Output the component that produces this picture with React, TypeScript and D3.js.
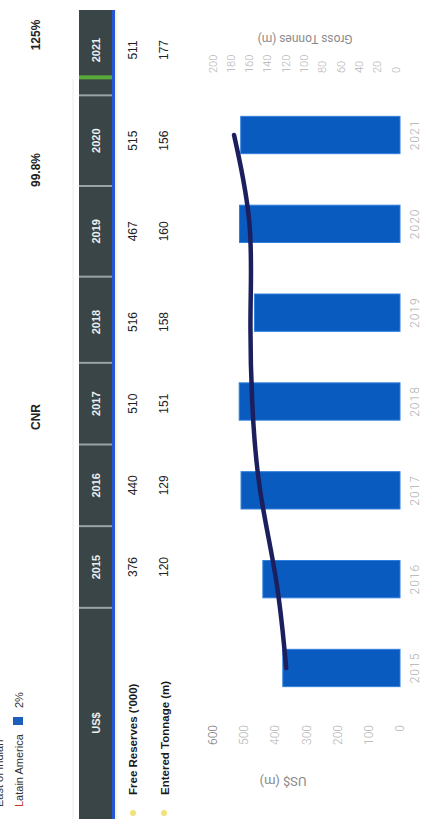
import React from 'react';
import * as d3 from 'd3';

// ---------- data ----------
const years = [2015, 2016, 2017, 2018, 2019, 2020, 2021];
const freeReserves = [376, 440, 510, 516, 467, 515, 511]; // US$ m (bars + table row 1)
const enteredTonnage = [120, 129, 151, 158, 160, 156, 177]; // gross tonnes m (line + table row 2)
const leftTicks = [0, 100, 200, 300, 400, 500, 600];
const rightTicks = [0, 20, 40, 60, 80, 100, 120, 140, 160, 180, 200];
const rowLabels = ["Free Reserves ('000)", 'Entered Tonnage (m)'];
const headerLabel = 'US$';
const titleTexts = ['CNR', '99.8%', '125%'];
const legendLabel = 'Latain America';
const legendValue = '2%';
const cutLabel = 'East of Indian';
const leftTitle = 'US$ (m)';
const rightTitle = 'Gross Tonnes (m)';

// ---------- layout (landscape page, then rotated onto the portrait photo) ----------
const PW = 819; // landscape width
const titlePos = [402, 649, 784];

const FONT = '"Liberation Sans", Arial, sans-serif';
const LIGHT = 'Roboto, "Liberation Sans", sans-serif';

export default function App() {
  const xBar = d3
    .scaleBand<string>()
    .domain(years.map(String))
    .range([106.6, 728.4])
    .paddingInner(0.58)
    .paddingOuter(0.29);
  const bw = xBar.bandwidth();
  const cx = (y: number) => (xBar(String(y)) as number) + bw / 2;
  const yL = d3.scaleLinear().domain([0, 600]).range([400, 213]);
  const yR = d3.scaleLinear().domain([0, 200]).range([396, 213]);

  const tableX = d3.scaleLinear().domain([2015, 2018, 2021]).range([252, 497, 769]);

  const line = d3
    .line<number>()
    .x((_, i) => cx(years[i]))
    .y((d) => yR(d))
    .curve(d3.curveBasis);

  const sepYears = [2014.5, ...years.slice(0, -1).map((y) => y + 0.5)];

  return (
    <svg
      width={424}
      height={819}
      style={{ position: 'absolute', left: 0, top: 0, background: '#fff' }}
    >
      <rect x={0} y={0} width={424} height={819} fill="#ffffff" />
      <g transform={`translate(0,${PW}) rotate(-90)`}>
        {/* cut-off legend line + legend */}
        <text x={12} y={3} fontFamily={FONT} fontSize={11} fill="#333">
          {cutLabel}
        </text>
        <text x={12} y={23} fontFamily={FONT} fontSize={11} fill="#333">
          <tspan fill="#c0392b">{legendLabel.slice(0, 1)}</tspan>
          {legendLabel.slice(1)}
        </text>
        <rect x={94} y={13} width={8} height={10} fill="#1c5fb8" />
        <text x={111} y={23} fontFamily={FONT} fontSize={11} fill="#333">
          {legendValue}
        </text>

        {/* titles */}
        {titleTexts.map((t, i) => (
          <text
            key={t}
            x={titlePos[i]}
            y={40}
            textAnchor="middle"
            fontFamily={FONT}
            fontWeight="bold"
            fontSize={12}
            fill="#222"
          >
            {t}
          </text>
        ))}

        {/* faint border */}
        <line x1={0} x2={740} y1={73} y2={73} stroke="#ececec" strokeWidth={1} />

        {/* table header */}
        <rect x={0} y={79} width={809} height={34} fill="#3a4547" />
        <rect x={0} y={112} width={809} height={3} fill="#2456d6" />
        <rect x={0} y={115} width={809} height={2} fill="#eef3b8" opacity={0.7} />
        {sepYears.map((s) => (
          <rect
            key={s}
            x={tableX(s) - 1}
            y={79}
            width={2}
            height={33}
            fill="#9aa4a6"
          />
        ))}
        <rect x={tableX(2020.5) + 16} y={79} width={4} height={33} fill="#5aa83a" />
        {years.map((y) => (
          <text
            key={y}
            x={tableX(y)}
            y={100}
            textAnchor="middle"
            fontFamily={FONT}
            fontWeight="bold"
            fontSize={11}
            fill="#eef0ee"
          >
            {y}
          </text>
        ))}
        <text
          x={96}
          y={100}
          textAnchor="middle"
          fontFamily={FONT}
          fontWeight="bold"
          fontSize={11}
          fill="#eef0ee"
        >
          {headerLabel}
        </text>

        {/* table rows */}
        {[freeReserves, enteredTonnage].map((row, r) => (
          <g key={r}>
            <circle cx={6} cy={r === 0 ? 133 : 164} r={3} fill="#f1e37a" />
            <text
              x={24}
              y={r === 0 ? 137 : 169}
              fontFamily={FONT}
              fontWeight="bold"
              fontSize={11.5}
              fill="#1a1a1a"
            >
              {rowLabels[r]}
            </text>
            {row.map((v, i) => (
              <text
                key={i}
                x={tableX(years[i])}
                y={r === 0 ? 137 : 168}
                textAnchor="middle"
                fontFamily={FONT}
                fontSize={12}
                fill="#222"
              >
                {v}
              </text>
            ))}
          </g>
        ))}

        {/* bars */}
        {freeReserves.map((v, i) => (
          <rect
            key={i}
            x={xBar(String(years[i])) as number}
            y={yL(v)}
            width={bw}
            height={yL(0) - yL(v)}
            fill="#0a5bbf"
            stroke="#2f7fdc"
            strokeWidth={1}
          />
        ))}

        {/* line */}
        <path
          d={line(enteredTonnage) || ''}
          fill="none"
          stroke="#1c1f5e"
          strokeWidth={4.5}
          strokeLinecap="round"
        />

        {/* left axis */}
        {leftTicks.map((t) => (
          <text
            key={t}
            x={94}
            y={yL(t)}
            textAnchor="end"
            dominantBaseline="central"
            fontFamily={LIGHT}
            fontWeight={300}
            fontSize={12}
            fill={t === 600 ? '#777' : '#b4b4b4'}
          >
            {t}
          </text>
        ))}
        {/* right axis */}
        {rightTicks.map((t) => (
          <text
            key={t}
            x={746}
            y={yR(t)}
            textAnchor="start"
            dominantBaseline="central"
            fontFamily={LIGHT}
            fontWeight={300}
            fontSize={11}
            fill="#b4b4b4"
          >
            {t}
          </text>
        ))}
        {/* category labels */}
        {years.map((y) => (
          <text
            key={y}
            x={cx(y)}
            y={419}
            textAnchor="middle"
            fontFamily={LIGHT}
            fontWeight={300}
            fontSize={12}
            letterSpacing={1}
            fill="#b0b0b0"
          >
            {y}
          </text>
        ))}
        {/* axis titles */}
        <text
          transform={`translate(38,283) rotate(-90)`}
          textAnchor="middle"
          dominantBaseline="central"
          fontFamily={LIGHT}
          fontSize={13}
          fill="#8a8a8a"
        >
          {leftTitle}
        </text>
        <text
          transform={`translate(780,305) rotate(-90)`}
          textAnchor="middle"
          dominantBaseline="central"
          fontFamily={LIGHT}
          fontSize={12}
          fill="#8a8a8a"
        >
          {rightTitle}
        </text>
      </g>
    </svg>
  );
}
